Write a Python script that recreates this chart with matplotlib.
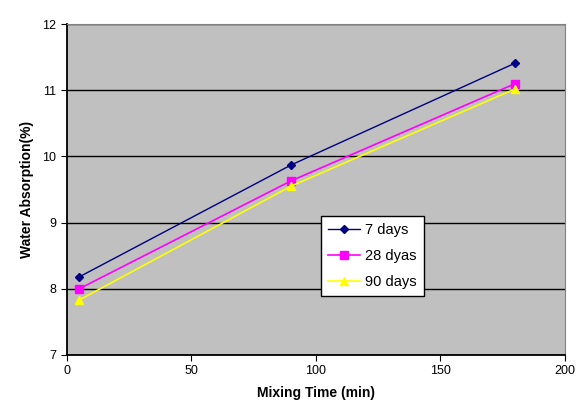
import matplotlib
matplotlib.use('Agg')
import matplotlib.pyplot as plt

plt.rcParams['font.family'] = ['Liberation Sans', 'DejaVu Sans']

mixing_time = [5, 90, 180]
days_7 = [8.18, 9.87, 11.41]
days_28 = [8.0, 9.63, 11.1]
days_90 = [7.83, 9.55, 11.02]

fig = plt.figure(figsize=(5.77, 4.16), dpi=100)
ax = fig.add_axes([0.116, 0.147, 0.863, 0.795])
ax.set_facecolor('#c0c0c0')

ax.plot(mixing_time, days_7, color='#000080', marker='D', markersize=4.5, lw=1, label='7 days')
ax.plot(mixing_time, days_28, color='#ff00ff', marker='s', markersize=5.5, lw=1.2, label='28 dyas')
ax.plot(mixing_time, days_90, color='#ffff00', marker='^', markersize=5.5, lw=1.2, label='90 days')

ax.set_xlim(0, 200)
ax.set_ylim(7, 12)
ax.set_xticks([0, 50, 100, 150, 200])
ax.set_yticks([7, 8, 9, 10, 11, 12])
ax.yaxis.grid(True, color='black', lw=1)
ax.set_axisbelow(True)
ax.tick_params(direction='out', length=4, labelsize=9, colors='black')

for side in ['left', 'bottom']:
    ax.spines[side].set_linewidth(1.3)
for side in ['top', 'right']:
    ax.spines[side].set_color('#808080')

ax.set_xlabel('Mixing Time (min)', fontsize=10, fontweight='bold', labelpad=6)
ax.set_ylabel('Water Absorption(%)', fontsize=10, fontweight='bold', labelpad=6)

leg = ax.legend(loc='lower left', bbox_to_anchor=(0.51, 0.178), borderaxespad=0,
                fontsize=10.5, fancybox=False, edgecolor='black', framealpha=1,
                handlelength=2.2, handletextpad=0.3, borderpad=0.5, labelspacing=0.8)
leg.get_frame().set_linewidth(1)

fig.savefig('out.png', dpi=100)
